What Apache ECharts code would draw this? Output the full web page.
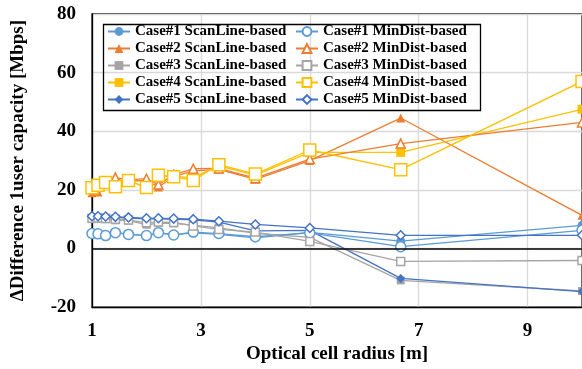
<!DOCTYPE html>
<html>
<head>
<meta charset="utf-8">
<script src="https://cdn.jsdelivr.net/npm/echarts@6/dist/echarts.min.js"></script>
<style>
  html, body { margin: 0; padding: 0; background: #fff; }
  #chart { width: 582px; height: 369px; }
</style>
</head>
<body>
<div id="chart"></div>
<script>
// Optical cell radius [m]
const radius = [1, 1.11, 1.25, 1.43, 1.67, 2, 2.22, 2.5, 2.86, 3.33, 4, 5, 6.67, 10];
const xTicks = [1, 3, 5, 7, 9];
const yTicks = [-20, 0, 20, 40, 60, 80];

// Difference of 1-user capacity [Mbps]
const case1Scan = [5.3, 5.2, 4.6, 5.3, 5.0, 4.3, 5.3, 4.7, 5.3, 4.8, 3.6, 5.5, 2.5, 7.9];
const case1Min  = [5.1, 5.0, 4.4, 5.4, 4.8, 4.4, 5.4, 4.6, 5.6, 5.1, 4.0, 5.3, 0.6, 6.2];
const case2Scan = [19.0, 19.3, 22.0, 23.5, 23.0, 23.2, 21.0, 24.5, 26.5, 27.0, 23.6, 30.0, 44.5, 11.3];
const case2Min  = [20.5, 21.5, 22.5, 24.2, 23.4, 23.8, 21.8, 25.2, 27.2, 27.3, 24.0, 30.5, 35.8, 43.0];
const case3Scan = [10.0, 10.1, 10.0, 9.6, 9.5, 8.1, 8.6, 8.6, 8.0, 7.0, 5.2, 3.8, -10.9, -14.5];
const case3Min  = [10.3, 10.4, 10.2, 10.0, 9.7, 8.8, 9.0, 8.9, 7.7, 6.5, 5.6, 2.4, -4.4, -4.1];
const case4Scan = [20.8, 21.0, 22.3, 21.4, 23.3, 20.6, 24.7, 24.6, 24.2, 28.2, 25.0, 32.8, 32.8, 47.5];
const case4Min  = [20.7, 21.6, 22.5, 21.1, 23.2, 20.8, 25.0, 24.5, 23.2, 28.6, 25.4, 33.6, 26.9, 57.0];
const case5Scan = [10.8, 10.8, 10.8, 10.6, 10.4, 10.1, 10.1, 10.0, 9.8, 9.0, 6.0, 6.2, -10.2, -14.7];
const case5Min  = [11.0, 11.0, 10.9, 10.8, 10.6, 10.3, 10.3, 10.2, 10.0, 9.3, 8.2, 7.0, 4.5, 4.5];

const scanNames = ['Case#1 ScanLine-based', 'Case#2 ScanLine-based', 'Case#3 ScanLine-based',
                   'Case#4 ScanLine-based', 'Case#5 ScanLine-based'];
const minNames  = ['Case#1 MinDist-based', 'Case#2 MinDist-based', 'Case#3 MinDist-based',
                   'Case#4 MinDist-based', 'Case#5 MinDist-based'];

const FONT = '"Liberation Serif", "Times New Roman", serif';

const styles = [
  { color: '#5B9BD5', symbol: 'circle',   size: 9,  hollowSize: 10 },
  { color: '#ED7D31', symbol: 'triangle', size: 9,  hollowSize: 9 },
  { color: '#A5A5A5', symbol: 'rect',     size: 8,  hollowSize: 8 },
  { color: '#FFC000', symbol: 'rect',     size: 9,  hollowSize: 12 },
  { color: '#4472C4', symbol: 'diamond',  size: 9,  hollowSize: 9 }
];

const scanData = [case1Scan, case2Scan, case3Scan, case4Scan, case5Scan];
const minData  = [case1Min, case2Min, case3Min, case4Min, case5Min];

const pairs = ys => radius.map((x, i) => [x, ys[i]]);

const series = [];
for (let i = 0; i < 5; i++) {
  const s = styles[i];
  series.push({
    name: scanNames[i], type: 'line', data: pairs(scanData[i]),
    symbol: s.symbol, symbolSize: s.size, showAllSymbol: true,
    lineStyle: { color: s.color, width: 1.3 },
    itemStyle: { color: s.color, borderColor: s.color, borderWidth: 0 },
    emphasis: { disabled: true }, z: 3
  });
  series.push({
    name: minNames[i], type: 'line', data: pairs(minData[i]),
    symbol: s.symbol, symbolSize: s.hollowSize, showAllSymbol: true,
    lineStyle: { color: s.color, width: 1.3 },
    itemStyle: { color: '#fff', borderColor: s.color, borderWidth: 1.5 },
    emphasis: { disabled: true }, z: 4
  });
}
// zero reference line
series[0].markLine = {
  silent: true, symbol: 'none', animation: false,
  label: { show: false },
  lineStyle: { color: '#000', width: 1.5, type: 'solid' },
  data: [{ yAxis: 0 }]
};

const legendCommon = {
  orient: 'vertical', top: 24, padding: 0, itemGap: 2,
  itemWidth: 22, itemHeight: 11,
  textStyle: { fontFamily: FONT, fontWeight: 'bold', fontSize: 15, color: '#000', lineHeight: 15 },
  selectedMode: false
};

const chart = echarts.init(document.getElementById('chart'), null, { renderer: 'canvas' });
chart.setOption({
  animation: false,
  backgroundColor: '#fff',
  grid: { left: 92, right: -2, top: 14, bottom: 60, show: true, borderColor: '#000', borderWidth: 1.3 },
  legend: [
    Object.assign({ left: 107, data: scanNames }, legendCommon),
    Object.assign({ left: 295, data: minNames }, legendCommon)
  ],
  graphic: [{
    type: 'rect', left: 101, top: 22, z: 10, silent: true,
    shape: { width: 377, height: 86 },
    style: { fill: 'none', stroke: '#000', lineWidth: 1.3 }
  }],
  xAxis: {
    type: 'value', min: xTicks[0], max: 10, interval: xTicks[1] - xTicks[0],
    name: 'Optical cell radius [m]', nameLocation: 'middle', nameGap: 28,
    nameTextStyle: { fontFamily: FONT, fontWeight: 'bold', fontSize: 19, color: '#000' },
    axisLine: { onZero: false, lineStyle: { color: '#000', width: 1.3 } },
    axisTick: { show: false },
    axisLabel: {
      margin: 14, showMaxLabel: false,
      fontFamily: FONT, fontWeight: 'bold', fontSize: 19, color: '#000',
      formatter: v => (xTicks.indexOf(v) >= 0 ? String(v) : '')
    },
    splitLine: { show: true, lineStyle: { color: '#D9D9D9', width: 1.3 } }
  },
  yAxis: {
    type: 'value', min: yTicks[0], max: yTicks[yTicks.length - 1], interval: yTicks[1] - yTicks[0],
    name: 'ΔDifference 1user capacity [Mbps]', nameLocation: 'middle', nameGap: 64, nameRotate: 90,
    nameTextStyle: { fontFamily: FONT, fontWeight: 'bold', fontSize: 19, color: '#000' },
    axisLine: { show: true, lineStyle: { color: '#000', width: 1.3 } },
    axisTick: { show: false },
    axisLabel: { margin: 16, fontFamily: FONT, fontWeight: 'bold', fontSize: 19, color: '#000' },
    splitLine: { show: true, lineStyle: { color: '#D9D9D9', width: 1.3 } }
  },
  series: series
});
</script>
</body>
</html>
